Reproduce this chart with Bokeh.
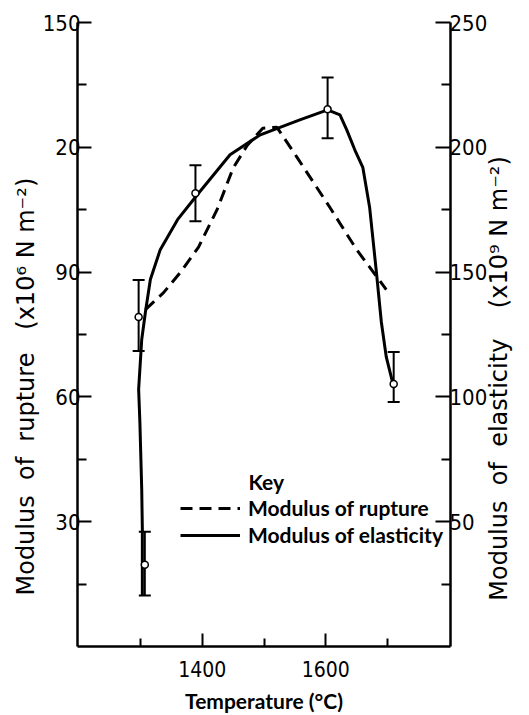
import math
from bokeh.plotting import figure
from bokeh.models import Range1d, LinearAxis, FixedTicker, Label, Legend, LegendItem, Title
from bokeh.embed import file_html
from bokeh.resources import INLINE

# Modulus of rupture (left axis, x10^6 N m^-2) -- dashed curve
rupture_temp = [1308, 1337, 1365, 1394, 1424, 1450, 1473, 1498, 1521, 1553, 1606, 1650, 1698]
rupture_val = [81, 85, 90, 96, 105, 115, 120.5, 124.6, 124.8, 117.7, 105.7, 95.4, 85.8]

# Modulus of elasticity (right axis, x10^9 N m^-2) -- solid curve
elast_temp = [1303, 1303, 1302, 1299, 1297, 1302, 1308, 1316, 1332, 1360, 1392, 1445, 1494,
              1558, 1603, 1623, 1634, 1647, 1660, 1671, 1682, 1690, 1698, 1708]
elast_val = [20.4, 47, 63, 90, 103, 123, 134, 147, 159, 171, 181, 197, 205,
             211, 215, 213, 207, 199, 192, 176, 150, 130, 116, 106]

# Measured elasticity points with error bars
pt_temp = [1297, 1389, 1603, 1710, 1307]
pt_val = [132, 181.6, 215.2, 105.2, 32.8]
pt_hi = [146.8, 192.8, 228, 118, 46]
pt_lo = [118.4, 170.4, 203.6, 98, 20.4]

# Axis ticks
x_major = [1400, 1600]
x_minor = [1300, 1500, 1700]
left_major = [30, 60, 90, 120, 150]
left_minor = [15, 45, 75, 105, 135]
left_labels = {120: "20"}
right_major = [50, 100, 150, 200, 250]
right_minor = [25, 75, 125, 175, 225]

NB = "\u00a0"
left_title = "Modulus" + NB * 2 + "of" + NB * 2 + "rupture" + NB * 3 + "(x10⁶" + NB + "N" + NB + "m⁻²)"
right_title = NB * 6 + "Modulus" + NB * 2 + "of" + NB * 2 + "elasticity" + NB * 4 + "(x10⁹" + NB + "N" + NB + "m⁻²)"

TICK_FONT = "DejaVu Sans Condensed, DejaVu Sans"
LABEL_FONT = "DejaVu Sans"
KEY_FONT = "Lato"

p = figure(width=529, height=715, output_backend="svg", toolbar_location=None,
           x_range=Range1d(1198, 1802), y_range=Range1d(0, 150),
           min_border_left=77, min_border_right=76, min_border_top=22, min_border_bottom=67,
           x_axis_location=None, y_axis_location=None)
p.extra_y_ranges = {"E": Range1d(0, 250)}
p.outline_line_color = None
p.xgrid.visible = False
p.ygrid.visible = False
p.background_fill_color = "white"
p.border_fill_color = "white"


def style_axis(ax, tick_in, minor_in, standoff):
    ax.axis_line_width = 2.5
    ax.axis_line_color = "black"
    ax.major_tick_line_width = 2
    ax.minor_tick_line_width = 2
    ax.major_tick_in = tick_in
    ax.major_tick_out = 0
    ax.minor_tick_in = minor_in
    ax.minor_tick_out = 0
    ax.major_label_text_font = TICK_FONT
    ax.major_label_text_font_size = "22px"
    ax.major_label_text_color = "black"
    ax.major_label_standoff = standoff


xaxis = LinearAxis(ticker=FixedTicker(ticks=x_major, minor_ticks=x_minor))
style_axis(xaxis, 13, 8, 14)
xaxis.axis_label = "Temperature (°C)"
xaxis.axis_label_text_font = KEY_FONT
xaxis.axis_label_text_font_style = "bold"
xaxis.axis_label_text_font_size = "21px"
xaxis.axis_label_text_color = "black"
xaxis.axis_label_standoff = 8
xaxis.major_label_text_font_size = "21px"
p.add_layout(xaxis, "below")

laxis = LinearAxis(ticker=FixedTicker(ticks=left_major, minor_ticks=left_minor),
                   major_label_overrides=left_labels)
style_axis(laxis, 14, 9, -3)
p.add_layout(laxis, "left")
p.add_layout(Title(text=left_title, align="left", offset=51, vertical_align="bottom",
                   standoff=0, text_font=LABEL_FONT, text_font_style="normal",
                   text_font_size="24px", text_color="black"), "left")

raxis = LinearAxis(y_range_name="E", ticker=FixedTicker(ticks=right_major, minor_ticks=right_minor))
style_axis(raxis, 15, 9, -1)
p.add_layout(raxis, "right")

rt = LinearAxis(y_range_name="E", ticker=FixedTicker(ticks=[], minor_ticks=[]))
rt.axis_line_color = None
rt.major_tick_line_color = None
rt.minor_tick_line_color = None
rt.major_tick_in = 0
rt.major_tick_out = 0
rt.minor_tick_in = 0
rt.minor_tick_out = 0
rt.axis_label = right_title
rt.axis_label_standoff = 8
rt.axis_label_text_font = LABEL_FONT
rt.axis_label_text_font_style = "normal"
rt.axis_label_text_font_size = "24px"
rt.axis_label_text_color = "black"
rt.axis_label_align = "start"
rt.axis_label_orientation = math.pi / 2
p.add_layout(rt, "right")

r_rupt = p.line(rupture_temp, rupture_val, line_color="black", line_width=3, line_dash="12 7")
r_elas = p.line(elast_temp, elast_val, line_color="black", line_width=3, y_range_name="E")

p.segment(x0=pt_temp, y0=pt_lo, x1=pt_temp, y1=pt_hi, line_color="black", line_width=2,
          y_range_name="E")
p.scatter(x=pt_temp + pt_temp, y=pt_lo + pt_hi, marker="dash", size=12, line_color="black",
          line_width=2, y_range_name="E")
p.scatter(x=pt_temp, y=pt_val, marker="circle", size=7, fill_color="white",
          line_color="black", line_width=1.5, y_range_name="E")

legend = Legend(items=[LegendItem(label="Modulus of rupture", renderers=[r_rupt]),
                       LegendItem(label="Modulus of elasticity", renderers=[r_elas])],
                location=(103, 99), orientation="vertical",
                glyph_width=60, glyph_height=20, label_standoff=8, spacing=2,
                padding=0, margin=0, border_line_color=None, background_fill_alpha=0,
                label_text_font=KEY_FONT, label_text_font_style="bold",
                label_text_font_size="21px", label_text_color="black")
p.add_layout(legend, "center")

p.add_layout(Label(x=171, y=165, x_units="screen", y_units="screen", text="Key",
                   text_font=KEY_FONT, text_font_style="bold", text_font_size="21px",
                   text_color="black", text_baseline="alphabetic", text_align="left"))

open("out.html", "w").write(file_html(p, INLINE))
